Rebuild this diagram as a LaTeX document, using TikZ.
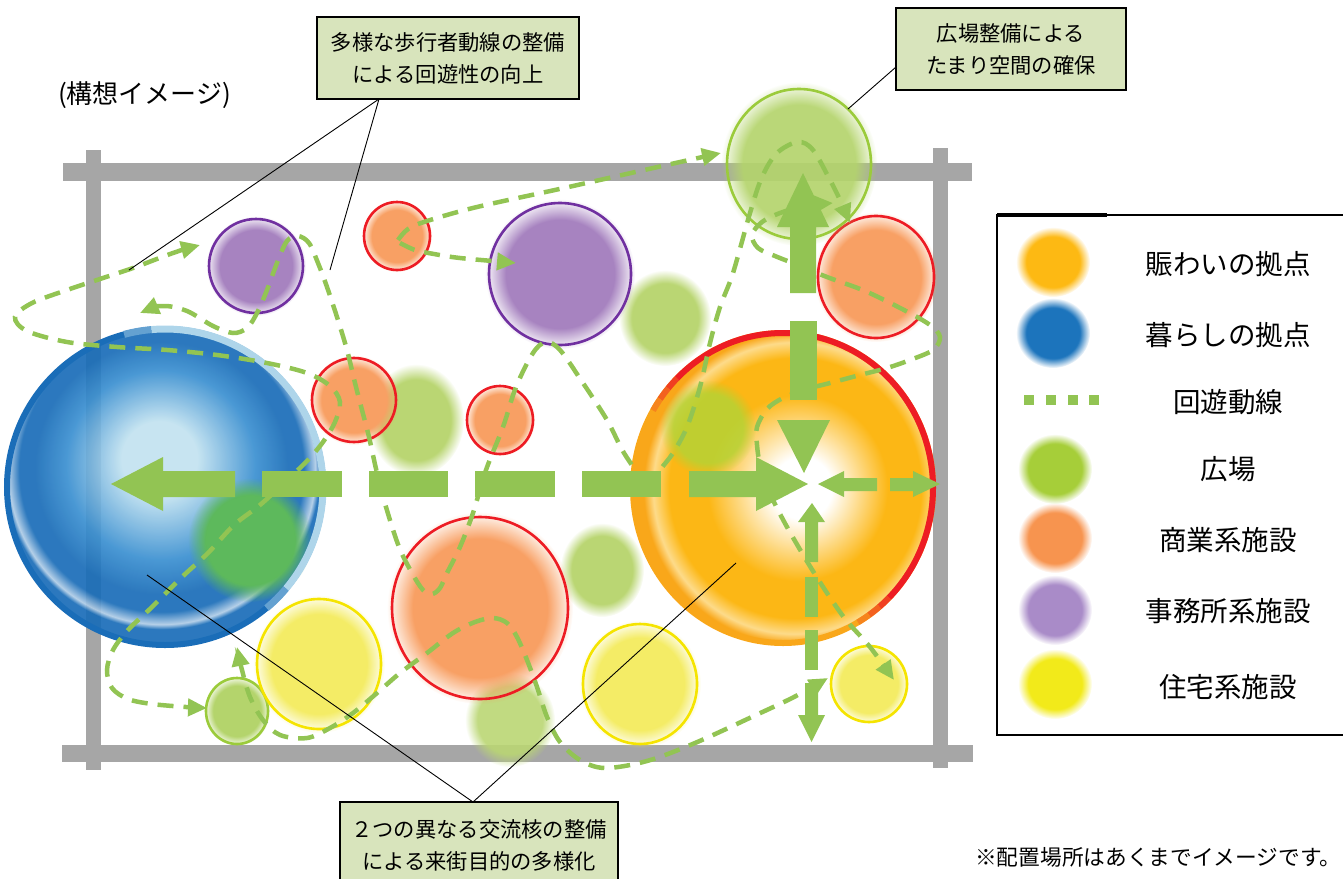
\documentclass[tikz,border=0pt]{standalone}
\usepackage{fontspec}
\newfontfamily\jp{Noto Sans CJK JP}
\usetikzlibrary{arrows.meta,fadings}
\definecolor{road}{HTML}{A6A6A6}
\definecolor{flow}{HTML}{92C453}
\definecolor{callfill}{HTML}{D8E4BC}
\definecolor{plazaline}{HTML}{9BCB3B}
\definecolor{plazafill}{HTML}{B4D46C}
\definecolor{blobgreen}{HTML}{BAD673}
\definecolor{comline}{HTML}{ED1C24}
\definecolor{comfill}{HTML}{F8A064}
\definecolor{offline}{HTML}{7030A0}
\definecolor{offfill}{HTML}{A783C0}
\definecolor{resline}{HTML}{F5E400}
\definecolor{resfill}{HTML}{F4EC66}
\definecolor{nigi}{HTML}{FCB715}
\definecolor{nigiring}{HTML}{F9A71A}
\definecolor{bdark}{HTML}{1A6DB8}
\definecolor{bmid}{HTML}{3A8FD0}
\definecolor{blight}{HTML}{C2E2F0}
\definecolor{bpale}{HTML}{AED5EA}
\definecolor{bgreen}{HTML}{5DB95C}
\definecolor{nigigreen}{HTML}{B5D335}
\definecolor{legorange}{HTML}{FDB913}
\definecolor{legblue}{HTML}{1C74BC}
\definecolor{leggreen}{HTML}{A6CE39}
\definecolor{legcom}{HTML}{F7944F}
\definecolor{legoff}{HTML}{A98BC8}
\definecolor{legres}{HTML}{F2EA1A}
\pgfdeclareradialshading{softdiscshade}{\pgfpointorigin}{color(0bp)=(white); color(18bp)=(white); color(25bp)=(black); color(50bp)=(black)}
\pgfdeclarefading{softdisc}{\pgfuseshading{softdiscshade}}
\pgfdeclareradialshading{nigishade}{\pgfpoint{3.5bp}{0bp}}{color(0bp)=(white); color(5bp)=(white); color(15bp)=(nigi); color(21bp)=(nigi); color(23.5bp)=(nigi!50!white); color(25bp)=(nigiring); color(50bp)=(nigiring)}
\pgfdeclareradialshading{kurashade}{\pgfpoint{-1bp}{5bp}}{color(0bp)=(blight); color(6bp)=(blight); color(15bp)=(bmid); color(20bp)=(bdark); color(22.5bp)=(bdark); color(24.3bp)=(bdark!35!white); color(25bp)=(bdark); color(50bp)=(bdark)}
\tikzset{
  blob/.style={fill=#1, path fading=softdisc},
  flowline/.style={draw=flow, line width=4.5pt, dash pattern=on 16pt off 10pt},
  endtip/.style={-{Triangle[length=19pt,width=17pt]}},
  bothtip/.style={{Triangle[length=19pt,width=17pt]}-{Triangle[length=19pt,width=17pt]}},
  starttip/.style={{Triangle[length=19pt,width=17pt]}-},
  bigarrow/.style={fill=flow},
  callout/.style={draw=black, line width=1.8pt, fill=callfill, align=center, inner sep=0pt, font=\jp\fontsize{21.3}{32}\selectfont},
  leader/.style={draw=black, line width=0.9pt},
  legtext/.style={font=\jp\fontsize{27.5}{30}\selectfont, anchor=center, inner sep=0pt},
  ringline/.style={line width=2.6pt}
}
\begin{document}
\begin{tikzpicture}[x=1pt,y=-1pt]
\useasboundingbox (0,0) rectangle (1343,878);
\clip (0,0) rectangle (1343,878);
% roads
\fill[road] (63,163) rectangle (972,181);
\fill[road] (62,745) rectangle (973,762);
\fill[road] (86,150) rectangle (101,770);
\fill[road] (933,148) rectangle (948,768);
% green plazas without border
\fill[blob=blobgreen] (665,318) ellipse (46 and 48);
\fill[blob=blobgreen] (416,420) ellipse (48 and 56);
\fill[blob=blobgreen] (602,570) ellipse (42 and 47);
\fill[blob=blobgreen, fill opacity=0.9] (510,720) ellipse (45 and 47);
% bordered facilities
\fill[blob=offfill] (256,266) ellipse (50 and 50);
\draw[offline, ringline] (256,266) ellipse (47 and 47);
\fill[blob=offfill] (560,274) ellipse (75 and 75);
\draw[offline, ringline] (560,274) ellipse (71 and 71);
\fill[blob=comfill] (397,236) ellipse (35 and 36);
\draw[comline, ringline] (397,236) ellipse (33 and 34);
\fill[blob=comfill] (354,400) ellipse (45 and 45);
\draw[comline, ringline] (354,400) ellipse (42 and 42);
\fill[blob=comfill] (500,420) ellipse (35 and 36);
\draw[comline, ringline] (500,420) ellipse (33 and 34);
\fill[blob=comfill] (480,608) ellipse (93 and 96);
\draw[comline, ringline] (480,608) ellipse (88 and 91);
\fill[blob=comfill] (876,277) ellipse (62 and 65);
\draw[comline, ringline] (876,277) ellipse (58 and 61);
\fill[blob=plazafill, fill opacity=0.92] (799,164) ellipse (78 and 82);
\draw[plazaline, ringline] (799,164) ellipse (72 and 75);
\fill[blob=plazafill] (237,711) ellipse (33 and 35);
\draw[plazaline, ringline] (237,711) ellipse (31 and 33);
\fill[blob=resfill] (319,664) ellipse (66 and 69);
\draw[resline, ringline] (319,664) ellipse (62 and 65);
\fill[blob=resfill] (640,684) ellipse (61 and 64);
\draw[resline, ringline] (640,684) ellipse (57 and 60);
\fill[blob=resfill] (869,684) ellipse (40 and 40);
\draw[resline, ringline] (869,684) ellipse (38 and 38);
% kurashi core (blue)
\shade[shading=kurashade, opacity=0.92] (165,487) ellipse (158 and 158);
\fill[blob=bgreen] (250,540) ellipse (62 and 62);
\draw[bdark, line width=6pt] (165,487) ellipse (158 and 158);
\draw[bpale, line width=7pt] (165,487) ++(40:158) arc[start angle=40, end angle=-95, radius=158];
\draw[bpale!50!bdark, line width=7pt] (165,487) ++(40:158) arc[start angle=40, end angle=50, radius=158];
\draw[bpale!50!bdark, line width=7pt] (165,487) ++(-95:158) arc[start angle=-95, end angle=-105, radius=158];
% nigiwai core (orange)
\shade[shading=nigishade] (783,488) ellipse (150 and 155);
\fill[blob=nigigreen, fill opacity=0.85] (708,428) ellipse (48 and 48);
\draw[nigiring, line width=6pt] (783,488) ellipse (150 and 155);
\draw[comline, line width=6pt] (783,488) ++(45:150 and 155) arc[start angle=45, end angle=-135, x radius=150, y radius=155];
\foreach \a/\m in {45/75,50/50,55/25}{
  \draw[comline!\m!nigiring, line width=6pt] (783,488) ++(\a:150 and 155) arc[start angle=\a, end angle=\a+5, x radius=150, y radius=155];}
\foreach \a/\m in {-135/75,-140/50,-145/25}{
  \draw[comline!\m!nigiring, line width=6pt] (783,488) ++(\a:150 and 155) arc[start angle=\a, end angle=\a-5, x radius=150, y radius=155];}
% circulation routes
\draw[flowline, bothtip] plot[smooth, tension=0.55] coordinates {(200,245) (173,253) (133,268) (100,279) (67,290) (32,303) (15,317) (27,331) (67,342) (117,347) (167,350) (217,355) (267,363) (307,373) (330,386) (340,402) (335,422) (323,442) (307,461) (285,482) (260,505) (234,525) (208,553) (182,577) (152,607) (128,630) (113,650) (107,670) (112,688) (128,699) (152,704) (186,707) (207,708)};
\draw[flowline, bothtip] plot[smooth, tension=0.55] coordinates {(237,647) (242,670) (250,697) (263,720) (280,735) (307,738) (330,728) (353,713) (377,693) (400,673) (427,653) (453,633) (475,622) (493,618) (507,623) (517,637) (527,660) (537,687) (547,717) (560,742) (580,760) (605,768) (647,761) (695,743) (756,715) (794,697) (828,678)};
\draw[flowline, endtip] plot[smooth, tension=0.55] coordinates {(398,240) (408,229) (427,221) (477,207) (564,188) (680,162) (721,153)};
\draw[flowline, endtip] plot[smooth, tension=0.55] coordinates {(400,243) (415,250) (434,254) (460,258) (516,263)};
\draw[flowline, starttip] plot[smooth, tension=0.55] coordinates {(140,313) (163,306) (187,311) (213,326) (233,333) (247,328) (257,313) (267,290) (277,263) (287,241) (298,236) (309,243) (318,263) (327,287) (337,317) (347,350) (355,383) (362,410) (369,437) (377,473) (386,507) (399,547) (412,573) (423,590) (432,594) (440,588) (447,573) (460,547) (473,513) (486,470) (503,427) (516,387) (533,353) (546,342) (560,350) (581,380) (607,420) (624,453) (648,488)};
\draw[flowline, endtip] plot[smooth, tension=0.55] coordinates {(648,488) (660,470) (673,453) (687,427) (700,387) (710,343) (720,307) (733,273) (750,213) (762,177) (777,153) (798,142) (813,150) (830,180) (840,200) (850,223)};
\draw[flowline, bothtip] plot[smooth, tension=0.55] coordinates {(833,203) (805,206) (780,213) (762,222) (752,235) (758,248) (775,256) (790,262) (827,277) (865,291) (904,310) (930,325) (940,337) (933,350) (910,360) (887,368) (860,375) (830,383) (807,389) (783,398) (767,409) (757,427) (757,445) (760,465) (767,485) (773,500) (787,527) (808,563) (827,593) (846,620) (870,647) (894,680)};
% main axis arrows
\fill[bigarrow] (111,484) -- (163,457) -- (163,471) -- (235,471) -- (235,497) -- (163,497) -- (163,511) -- cycle;
\fill[bigarrow] (262,471) rectangle (342,497);
\fill[bigarrow] (369,471) rectangle (448,497);
\fill[bigarrow] (475,471) rectangle (555,497);
\fill[bigarrow] (582,471) rectangle (661,497);
\fill[bigarrow] (689,471) -- (756,471) -- (756,457) -- (808,484) -- (756,511) -- (756,497) -- (689,497) -- cycle;
\fill[bigarrow] (818,484) -- (844,471) -- (844,478) -- (877,478) -- (877,491) -- (844,491) -- (844,497) -- cycle;
\fill[bigarrow] (890,478) -- (913,478) -- (913,471) -- (940,484) -- (913,497) -- (913,491) -- (890,491) -- cycle;
\fill[bigarrow] (790,293) -- (790,227) -- (777,227) -- (803,173) -- (829,227) -- (816,227) -- (816,293) -- cycle;
\fill[bigarrow] (790,321) rectangle (817,400);
\fill[bigarrow] (777,420) -- (830,420) -- (804,473) -- cycle;
\fill[bigarrow] (812,503) -- (825,522) -- (818,522) -- (818,562) -- (805,562) -- (805,522) -- (798,522) -- cycle;
\fill[bigarrow] (805,577) rectangle (818,617);
\fill[bigarrow] (805,630) rectangle (818,670);
\fill[bigarrow] (805,683) -- (818,683) -- (818,715) -- (825,715) -- (811.5,742) -- (798,715) -- (805,715) -- cycle;
% callouts
\coordinate (c1p) at (379,99);
\coordinate (c1a) at (129,270);
\coordinate (c1b) at (330,270);
\coordinate (c2p) at (896,67);
\coordinate (c2a) at (848,109);
\coordinate (c3p) at (473,802);
\coordinate (c3a) at (147,575);
\coordinate (c3b) at (736,563);
\draw[leader] (c1p) -- (c1a);
\draw[leader] (c1p) -- (c1b);
\draw[leader] (c2p) -- (c2a);
\draw[leader] (c3p) -- (c3a);
\draw[leader] (c3p) -- (c3b);
\node[callout, minimum width=262pt, minimum height=82pt] (box1) at (448,58) {多様な歩行者動線の整備\\による回遊性の向上};
\node[callout, minimum width=230pt, minimum height=82pt] (box2) at (1011,49) {広場整備による\\たまり空間の確保};
\node[callout, minimum width=278pt, minimum height=86pt] (box3) at (479,845) {２つの異なる交流核の整備\\による来街目的の多様化};
\node[anchor=west, inner sep=0pt, font=\jp\fontsize{26}{30}\selectfont] (title) at (58,95) {(構想イメージ)};
\node[anchor=west, inner sep=0pt, font=\jp\fontsize{21.7}{26}\selectfont] (note) at (975,857) {※配置場所はあくまでイメージです。};
% legend
\draw[line width=1.6pt] (997,215) rectangle (1365,735);
\draw[line width=3.2pt] (997,215) -- (1107,215);
\fill[blob=legorange] (1053,262) ellipse (37 and 35);
\fill[blob=legblue] (1053,333) ellipse (37 and 35);
\foreach \x in {1024,1046,1068,1089}{\fill[flow] (\x,395) rectangle (\x+10,405);}
\fill[blob=leggreen] (1055,469) ellipse (37 and 35);
\fill[blob=legcom] (1055,538) ellipse (37 and 35);
\fill[blob=legoff] (1055,610) ellipse (37 and 35);
\fill[blob=legres] (1055,684) ellipse (37 and 35);
\node[legtext] (l1) at (1228,264) {賑わいの拠点};
\node[legtext] (l2) at (1228,335) {暮らしの拠点};
\node[legtext] (l3) at (1228,402) {回遊動線};
\node[legtext] (l4) at (1228,469) {広場};
\node[legtext] (l5) at (1228,540) {商業系施設};
\node[legtext] (l6) at (1228,611) {事務所系施設};
\node[legtext] (l7) at (1228,687) {住宅系施設};
\end{tikzpicture}
\end{document}
